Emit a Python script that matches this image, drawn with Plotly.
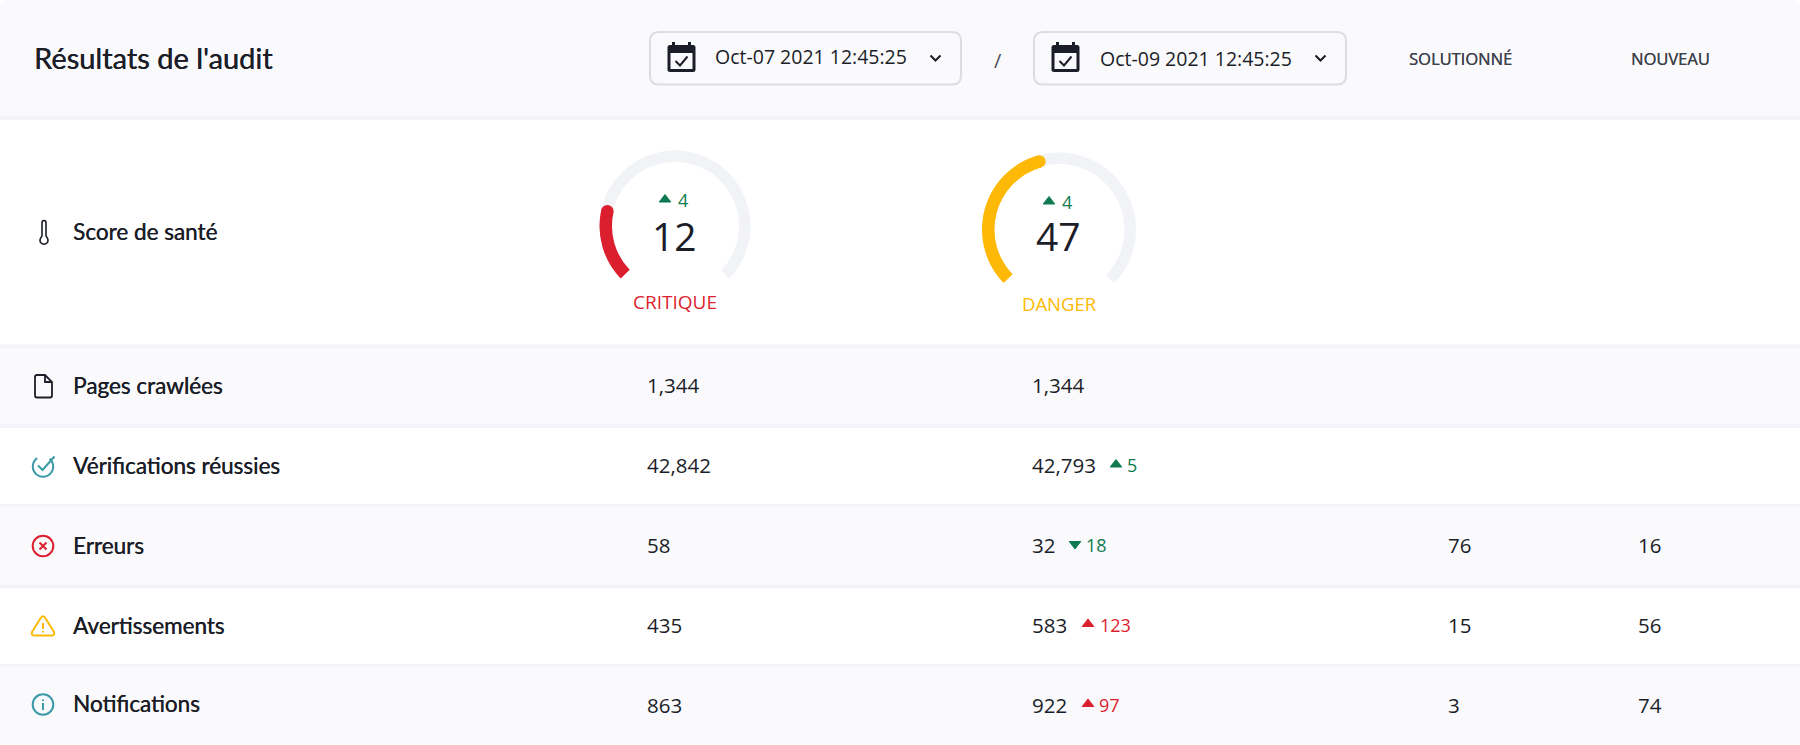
import math
import plotly.graph_objects as go

# values
title = "Résultats de l'audit"
date_labels = ["Oct-07 2021 12:45:25", "Oct-09 2021 12:45:25"]
header_labels = ["SOLUTIONNÉ", "NOUVEAU"]

score_label = "Score de santé"
scores = [12, 47]
score_fill_pct = [21, 44]   # how far the arc is really filled
score_deltas = [4, 4]
score_status = ["CRITIQUE", "DANGER"]

row_labels = ["Pages crawlées", "Vérifications réussies", "Erreurs", "Avertissements", "Notifications"]
previous_values = [1344, 42842, 58, 435, 863]
current_values = [1344, 42793, 32, 583, 922]
delta_values = [None, 5, 18, 123, 97]
delta_symbols = [None, "triangle-up", "triangle-down", "triangle-up", "triangle-up"]
delta_colors = [None, "green", "green", "red", "red"]
solved_values = [None, None, 76, 15, 3]
new_values = [None, None, 16, 56, 74]

# layout, in pixels
W, H = 1800, 745
DARK = "#1b1e28"
GREEN = "#0f7a50"
RED = "#dc1f2e"
YELLOW = "#fdb906"
TEAL = "#3a9aa8"
ROW_BG = "#fafafc"
SEP = "#f3f4f7"
LABEL_FONT = "Lato"
NUM_FONT = "Open Sans"
COLORS = {"green": GREEN, "red": RED}

row_tops = [348, 428, 507, 588, 667]
row_bottoms = [424, 504, 585, 664, 744]
row_y = [385.5, 465.5, 545.5, 625.5, 703.5]
value_y = [385, 465, 544.5, 624.5, 704.5]
col_x = [645.5, 1030.5, 1446.5, 1636.5]
delta_tri_x = [None, 1116, 1075, 1088, 1088]
delta_txt_x = [None, 1125.5, 1084.5, 1098.5, 1097.5]
gauge_x = [675, 1059]
gauge_y = [226, 229.5]
gauge_r = [75.5, 77]
gauge_colors = [RED, YELLOW]
gauge_start = -134
gauge_sweep = 268

fig = go.Figure()


def add_text(x, y, text, size, color=DARK, family=NUM_FONT, anchor="left", shadow=None):
    # the Lato here has no medium weight, a thin shadow thickens it a little
    fig.add_annotation(x=x, y=y, text=text, showarrow=False, xanchor=anchor, yanchor="middle",
                       borderpad=0, font=dict(size=size, color=color, family=family, shadow=shadow))


def add_rect(x0, y0, x1, y1, fill, line=None, line_width=0):
    fig.add_shape(type="rect", x0=x0, y0=y0, x1=x1, y1=y1, fillcolor=fill, layer="below",
                  line=dict(color=line, width=line_width))


def add_path(path, line=None, width=0, fill=None):
    fig.add_shape(type="path", path=path, layer="above", fillcolor=fill,
                  line=dict(color=line or "rgba(0,0,0,0)", width=width))


def add_circle(cx, cy, r, line=None, width=0, fill=None):
    fig.add_shape(type="circle", x0=cx - r, y0=cy - r, x1=cx + r, y1=cy + r, layer="above", fillcolor=fill,
                  line=dict(color=line or "rgba(0,0,0,0)", width=width))


def round_rect(x0, y0, x1, y1, r):
    return (f"M{x0 + r},{y0} L{x1 - r},{y0} Q{x1},{y0} {x1},{y0 + r} L{x1},{y1 - r} Q{x1},{y1} {x1 - r},{y1} "
            f"L{x0 + r},{y1} Q{x0},{y1} {x0},{y1 - r} L{x0},{y0 + r} Q{x0},{y0} {x0 + r},{y0} Z")


def arc_path(cx, cy, r, a0, a1, n=40):
    # plotly shape paths have no A command, so the icon arc is a polyline
    pts = []
    for j in range(n + 1):
        a = math.radians(a0 + (a1 - a0) * j / n)
        pts.append(f"{cx + r * math.sin(a):.2f},{cy - r * math.cos(a):.2f}")
    return "M" + " L".join(pts)


MEDIUM = f"0.35px 0 0 {DARK}"

# bands
fig.add_shape(type="path", layer="below", fillcolor=ROW_BG, line=dict(width=0),
              path=f"M0,116 L0,6 Q0,0 6,0 L{W - 6},0 Q{W},0 {W},6 L{W},116 Z")
add_rect(0, 116, W, 120, SEP)
add_rect(0, 344.5, W, 348, SEP)
for i in range(len(row_labels)):
    if i % 2 == 0:
        add_rect(0, row_tops[i], W, row_bottoms[i], ROW_BG)
    if i < len(row_labels) - 1:
        add_rect(0, row_bottoms[i], W, row_tops[i + 1], SEP)

# header
add_text(33, 57, title, 29, family=LABEL_FONT, shadow=MEDIUM)
button_x = [(649, 962), (1033, 1347)]
date_x = [714, 1099]
date_y = [56.5, 58.5]
for k, (bx0, bx1) in enumerate(button_x):
    add_path(round_rect(bx0 + 1, 32, bx1 - 1, 84.5, 9), line="#dcdde3", width=2, fill=ROW_BG)
    add_text(date_x[k], date_y[k], date_labels[k], 19.5)
    cx = bx0 + 18.5
    add_path(round_rect(cx, 45, cx + 28, 72, 2.5), fill=DARK)
    add_path(f"M{cx + 6},42 L{cx + 6},47 M{cx + 22},42 L{cx + 22},47", line=DARK, width=3)
    add_path(f"M{cx + 3},53 L{cx + 25},53 L{cx + 25},69 L{cx + 3},69 Z", fill=ROW_BG)
    add_path(f"M{cx + 8},61 L{cx + 12.5},65.5 L{cx + 20},56.5", line=DARK, width=2)
    chev_x = bx1 - 26.5
    add_path(f"M{chev_x - 5},55.5 L{chev_x},60.5 L{chev_x + 5},55.5", line=DARK, width=2)
add_text(998, 60, "/", 20, color="#4a4e58", anchor="center")
add_text(1460.5, 58, header_labels[0], 16.5, color="#3c414c", anchor="center", shadow="0.25px 0 0 #3c414c")
add_text(1670, 58, header_labels[1], 16.5, color="#3c414c", anchor="center", shadow="0.25px 0 0 #3c414c")

# score row
add_text(72, 231, score_label, 22.5, family=LABEL_FONT, shadow=MEDIUM)
add_path("M42,236 L42,223 Q42,220.5 44,220.5 Q46,220.5 46,223 L46,236 Q49,239.5 47.5,242.5 Q44,246 40.5,242.5 Q39,239.5 42,236 Z",
         line=DARK, width=1.6)

tri_x = [665, 1049]
tri_y = [199.5, 201.5]
num_x = [683, 1067]
status_y = [301.5, 303.5]
status_size = [19, 18.5]
for k, score in enumerate(scores):
    cx, cy, r = gauge_x[k], gauge_y[k], gauge_r[k]
    domain = dict(x=[(cx - r) / W, (cx + r) / W], y=[1 - (cy + r) / H, 1 - (cy - r) / H])
    # grey track: the gap at the bottom is a transparent slice
    fig.add_trace(go.Pie(values=[gauge_sweep, 360 - gauge_sweep], hole=(r - 11.5) / r, domain=domain,
                         rotation=gauge_start, sort=False, direction="clockwise", textinfo="none",
                         hoverinfo="skip", showlegend=False,
                         marker=dict(colors=["#f1f3f7", "rgba(0,0,0,0)"], line=dict(width=0))))
    fill = gauge_sweep * score_fill_pct[k] / 100
    fig.add_trace(go.Pie(values=[fill, 360 - fill], hole=(r - 12.5) / r, domain=domain,
                         rotation=gauge_start, sort=False, direction="clockwise", textinfo="none",
                         hoverinfo="skip", showlegend=False,
                         marker=dict(colors=[gauge_colors[k], "rgba(0,0,0,0)"], line=dict(width=0))))
    # round end of the arc
    a = math.radians(gauge_start + fill)
    add_circle(cx + (r - 6.25) * math.sin(a), cy - (r - 6.25) * math.cos(a), 6.25, fill=gauge_colors[k])
    fig.add_trace(go.Scatter(x=[tri_x[k]], y=[tri_y[k]], mode="markers", hoverinfo="skip", showlegend=False,
                             marker=dict(symbol="triangle-up", size=10, color=GREEN, line=dict(color=GREEN, width=1))))
    add_text(num_x[k], tri_y[k] + 0.5, str(score_deltas[k]), 18, color=GREEN, anchor="center")
    add_text(cx - (1 if k else 0.5), 235, str(score), 39, anchor="center")
    add_text(cx - (0 if k else 0.5), status_y[k], score_status[k], status_size[k], color=gauge_colors[k], anchor="center")

# table rows
for i, label in enumerate(row_labels):
    add_text(71.5, row_y[i], label, 22.5, family=LABEL_FONT, shadow=MEDIUM)
    add_text(col_x[0], value_y[i], f"{previous_values[i]:,}", 20.5)
    add_text(col_x[1], value_y[i], f"{current_values[i]:,}", 20.5)
    if solved_values[i] is not None:
        add_text(col_x[2], value_y[i], str(solved_values[i]), 20.5)
        add_text(col_x[3], value_y[i], str(new_values[i]), 20.5)
    if delta_values[i] is not None:
        c = COLORS[delta_colors[i]]
        fig.add_trace(go.Scatter(x=[delta_tri_x[i]], y=[value_y[i] - 0.5], mode="markers", hoverinfo="skip",
                                 showlegend=False,
                                 marker=dict(symbol=delta_symbols[i], size=10, color=c, line=dict(color=c, width=1))))
        add_text(delta_txt_x[i], value_y[i], str(delta_values[i]), 18, color=c)

# row icons
add_path("M35,377 Q35,375 37,375 L45,375 L52,382 L52,395.5 Q52,397.5 50,397.5 L37,397.5 Q35,397.5 35,395.5 Z M45,375 L45,382 L52,382",
         line=DARK, width=1.8)
add_path(arc_path(43, 466.5, 10.2, 40, 400 - 75), line=TEAL, width=2)
add_path("M38,465.5 L42.5,470 L54.5,456.5", line=TEAL, width=2)
add_circle(43, 546, 10.3, line=RED, width=2)
add_path("M39.5,542.5 L46.5,549.5 M46.5,542.5 L39.5,549.5", line=RED, width=2)
add_path("M41,617.5 Q43,615 45,617.5 L54,632 Q55,635.5 52,635.5 L34,635.5 Q31,635.5 32,632 Z M43,623 L43,629 M43,631 L43,632.5",
         line=YELLOW, width=2)
add_circle(43, 704.5, 10.3, line=TEAL, width=2)
add_path("M43,703 L43,710 M43,699.5 L43,701", line=TEAL, width=2)

fig.update_layout(
    width=W, height=H,
    margin=dict(l=0, r=0, t=0, b=0),
    paper_bgcolor="white", plot_bgcolor="rgba(0,0,0,0)",
    showlegend=False,
    xaxis=dict(range=[0, W], visible=False, fixedrange=True),
    yaxis=dict(range=[H, 0], visible=False, fixedrange=True),
)

fig.write_html("out.html", config=dict(displayModeBar=False), post_script="document.body.style.margin='0';")
